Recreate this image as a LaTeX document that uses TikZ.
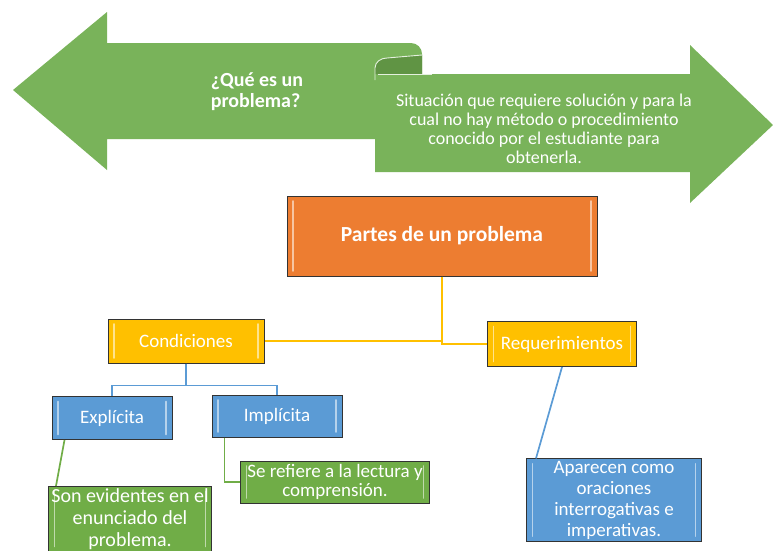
\documentclass[tikz,border=0pt]{standalone}
\usepackage{fontspec}
\setmainfont{Carlito}
\usetikzlibrary{positioning,calc}
\definecolor{arrowgreen}{RGB}{121,179,90}
\definecolor{rolldark}{RGB}{96,148,68}
\definecolor{partorange}{RGB}{237,125,49}
\definecolor{condyellow}{RGB}{255,192,0}
\definecolor{typeblue}{RGB}{91,155,213}
\definecolor{notegreen}{RGB}{112,173,71}

\begin{document}
\begin{tikzpicture}[x=1pt, y=-1pt,
    box/.style={draw=black!80, line width=1pt, text=white, align=center, inner sep=2pt,
        fill=#1, font=\fontsize{19}{20}\selectfont,
        path picture={
            \draw[white!55!#1, line width=1.6pt, line cap=round]
                ([xshift=6pt,yshift=5pt]path picture bounding box.south west) -- ([xshift=6pt,yshift=-5pt]path picture bounding box.north west)
                ([xshift=-6pt,yshift=5pt]path picture bounding box.south east) -- ([xshift=-6pt,yshift=-5pt]path picture bounding box.north east);
        }},
    link/.style={line width=1.7pt},
    rolledge/.style={white!80!arrowgreen, line width=0.9pt}
]
    \useasboundingbox (0,0) rectangle (773,550);
    \clip (0,0) rectangle (773,550);

    % opposing arrows at the top
    \fill[arrowgreen] (13,90) -- (107,12) -- (107,43) -- (411,43) to[out=0,in=90] (422,54)
        -- (422,139) -- (107,139) -- (107,170) -- cycle;
    \fill[arrowgreen] (375,172) -- (375,74) -- (690,74) -- (690,45)
        -- (773,125) -- (690,203) -- (690,172) -- cycle;
    \fill[rolldark] (375,74) -- (375,68) to[out=90,in=180] (387,58) -- (422,55) -- (422,74) -- cycle;
    \draw[rolledge] (375,80) -- (375,68) to[out=90,in=180] (387,58) -- (422,55);
    \draw[rolledge] (378,74) -- (432,74);

    \node[text=white, font=\fontsize{20}{21}\selectfont\bfseries, align=left] (pregunta) at (257,92) {¿Qué es un\\problema?};
    \node[text=white, font=\fontsize{18}{19}\selectfont, align=center] (definicion) at (544,129)
        {Situación que requiere solución y para la\\cual no hay método o procedimiento\\conocido por el estudiante para\\obtenerla.};

    % parts of a problem
    \node[box=partorange, minimum width=310, minimum height=80, font=\fontsize{21.5}{24}\selectfont\bfseries] (partes) at (442,236) {Partes de un problema};
    \node[box=condyellow, minimum width=156, minimum height=44] (cond) at (186,341) {Condiciones};
    \node[box=condyellow, minimum width=149, minimum height=45] (req) at (562,344) {Requerimientos};
    \node[box=typeblue, minimum width=120, minimum height=43] (expl) at (112,418) {Explícita};
    \node[box=typeblue, minimum width=130, minimum height=42] (impl) at (277,416) {Implícita};
    \node[box=notegreen, minimum width=189, minimum height=42, font=\fontsize{19}{18.5}\selectfont] (lect) at (335,482) {Se refiere a la lectura y\\comprensión.};
    \node[box=notegreen, minimum width=163, minimum height=64, font=\fontsize{20}{22}\selectfont] (evid) at (130,519) {Son evidentes en el\\enunciado del\\problema.};
    \node[box=typeblue, minimum width=175, minimum height=79, font=\fontsize{19}{21}\selectfont] (aparecen) at (614,500) {Aparecen como\\oraciones\\interrogativas e\\imperativas.};

    \draw[link, condyellow] (partes.south) |- (cond.east);
    \draw[link, condyellow] (partes.south) |- (req.west);
    \draw[link, typeblue] (cond.south) -- ++(0,22) -| (expl.north);
    \draw[link, typeblue] (cond.south) -- ++(0,22) -| (impl.north);
    \draw[link, notegreen] ([xshift=13pt]expl.south west) -- ([xshift=8pt]evid.north west);
    \draw[link, notegreen] ([xshift=13pt]impl.south west) |- (lect.west);
    \draw[link, typeblue] (req.south) -- ([xshift=10pt]aparecen.north west);
\end{tikzpicture}
\end{document}
